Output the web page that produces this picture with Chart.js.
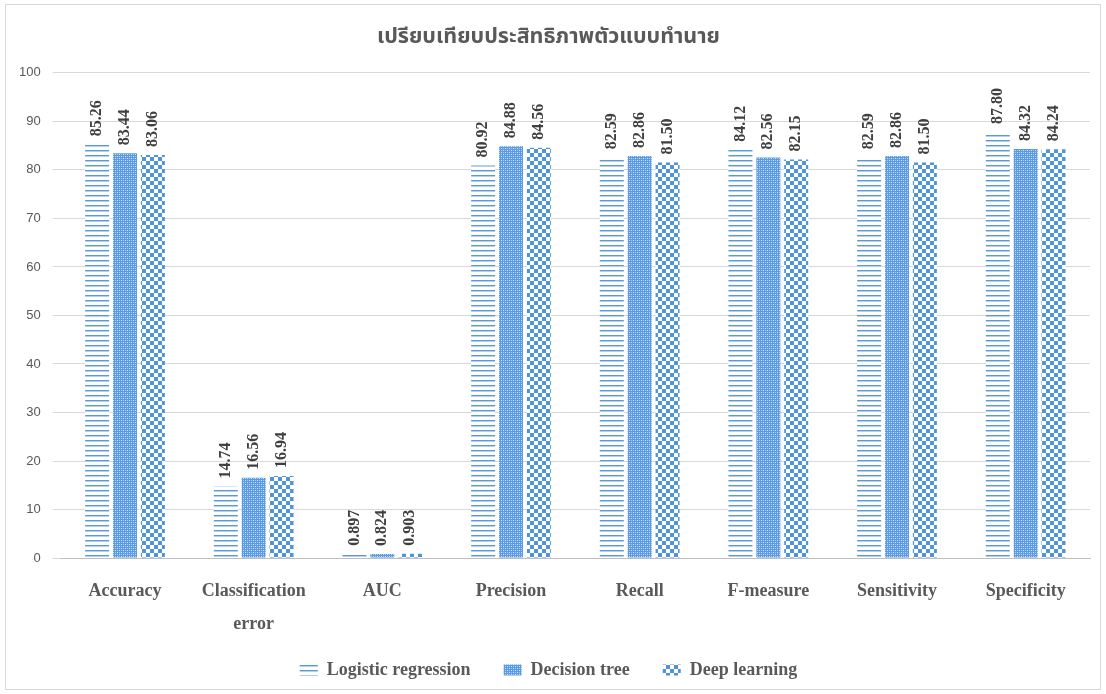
<!DOCTYPE html>
<html>
<head>
<meta charset="utf-8">
<script src="https://cdn.jsdelivr.net/npm/chart.js@4.4.1/dist/chart.umd.min.js"></script>
<style>
  html, body { margin: 0; padding: 0; background: #fff; }
  #wrap { position: absolute; left: 5px; top: 4px; width: 1094px; height: 684px; border: 1px solid #d9d9d9; }
  canvas { display: block; }
</style>
</head>
<body>
<div id="wrap"><canvas id="modelChart" width="1094" height="684"></canvas></div>
<script>
const categories = ['Accuracy', ['Classification', 'error'], 'AUC', 'Precision', 'Recall', 'F-measure', 'Sensitivity', 'Specificity'];
const seriesNames = ['Logistic regression', 'Decision tree', 'Deep learning'];
const logisticValues = [85.26, 14.74, 0.897, 80.92, 82.59, 84.12, 82.59, 87.80];
const treeValues = [83.44, 16.56, 0.824, 84.88, 82.86, 82.56, 82.86, 84.32];
const deepValues = [83.06, 16.94, 0.903, 84.56, 81.50, 82.15, 81.50, 84.24];
const yTicks = [0, 10, 20, 30, 40, 50, 60, 70, 80, 90, 100];

const textGray = '#595959';
const serifFont = '"Liberation Serif", "Times New Roman", serif';

// little canvases used as fill patterns (Excel style pattern fills)
function makePattern(w, h, draw) {
    const c = document.createElement('canvas');
    c.width = w; c.height = h;
    const g = c.getContext('2d');
    g.fillStyle = '#fff';
    g.fillRect(0, 0, w, h);
    draw(g);
    return document.getElementById('modelChart').getContext('2d').createPattern(c, 'repeat');
}

const stripes = makePattern(4, 5, g => {
    g.fillStyle = '#5b9bd5';
    g.fillRect(0, 0, 4, 1);
    g.fillStyle = '#b4d0ee';
    g.fillRect(0, 1, 4, 1);
});

const hatch = makePattern(4, 4, g => {
    g.fillStyle = '#5b9be0';
    g.fillRect(0, 0, 4, 4);
    g.fillStyle = '#d3e4f6';
    g.fillRect(1, 1, 1, 1);
    g.fillRect(3, 3, 1, 1);
    g.fillStyle = '#a4c6ec';
    g.fillRect(3, 1, 1, 1);
    g.fillRect(1, 3, 1, 1);
});

const checker = makePattern(8, 8, g => {
    g.fillStyle = '#4f93d8';
    g.fillRect(0, 0, 4, 4);
    g.fillRect(4, 4, 4, 4);
});

// rotated value labels above each bar
const valueLabels = {
    id: 'valueLabels',
    afterDatasetsDraw(chart) {
        const ctx = chart.ctx;
        ctx.save();
        ctx.font = 'bold 16px ' + serifFont;
        ctx.fillStyle = '#404040';
        ctx.textAlign = 'left';
        ctx.textBaseline = 'middle';
        chart.data.datasets.forEach((ds, i) => {
            const meta = chart.getDatasetMeta(i);
            meta.data.forEach((bar, j) => {
                const v = ds.data[j];
                const txt = v < 1 ? v.toFixed(3) : v.toFixed(2);
                ctx.save();
                ctx.translate(bar.x, bar.y - 8);
                ctx.rotate(-Math.PI / 2);
                ctx.fillText(txt, 0, 0);
                ctx.restore();
            });
        });
        ctx.restore();
    }
};

// keep the wide item spacing of the legend but not the tall box it gives
const legendHeight = {
    id: 'legendHeight',
    beforeInit(chart) {
        const fit = chart.legend.fit;
        chart.legend.fit = function () {
            fit.call(this);
            this.height = 36;
        };
    },
    afterLayout(chart) {
        chart.legend.top -= 22;
    }
};

const ctx = document.getElementById('modelChart').getContext('2d');
new Chart(ctx, {
    type: 'bar',
    data: {
        labels: categories,
        datasets: [
            { label: seriesNames[0], data: logisticValues, backgroundColor: stripes },
            { label: seriesNames[1], data: treeValues, backgroundColor: hatch },
            { label: seriesNames[2], data: deepValues, backgroundColor: checker }
        ]
    },
    options: {
        responsive: false,
        animation: false,
        layout: { padding: { left: 1, right: 10, top: 4, bottom: 3 } },
        datasets: {
            bar: { categoryPercentage: 0.65, barPercentage: 0.86 }
        },
        plugins: {
            title: {
                display: true,
                text: 'เปรียบเทียบประสิทธิภาพตัวแบบทำนาย',
                color: textGray,
                font: { family: '"Noto Sans Thai", Tahoma, "Noto Sans", sans-serif', size: 21.5, weight: 'bold' },
                padding: { top: 17, bottom: 21 }
            },
            legend: {
                position: 'bottom',
                labels: {
                    color: textGray,
                    font: { family: serifFont, size: 18, weight: 'bold' },
                    boxWidth: 18,
                    boxHeight: 11,
                    padding: 33
                }
            },
            tooltip: { enabled: false }
        },
        scales: {
            x: {
                grid: { display: false },
                border: { color: '#bfbfbf' },
                ticks: {
                    color: textGray,
                    font: { family: serifFont, size: 18, weight: 'bold', lineHeight: 1.83 },
                    maxRotation: 0,
                    padding: 9
                }
            },
            y: {
                min: 0,
                max: 100,
                afterBuildTicks: axis => { axis.ticks = yTicks.map(v => ({ value: v })); },
                grid: { color: '#d9d9d9' },
                border: { display: false },
                ticks: {
                    color: textGray,
                    font: { family: '"Liberation Sans", Arial, sans-serif', size: 13 },
                    padding: 12
                }
            }
        }
    },
    plugins: [valueLabels, legendHeight]
});
</script>
</body>
</html>
